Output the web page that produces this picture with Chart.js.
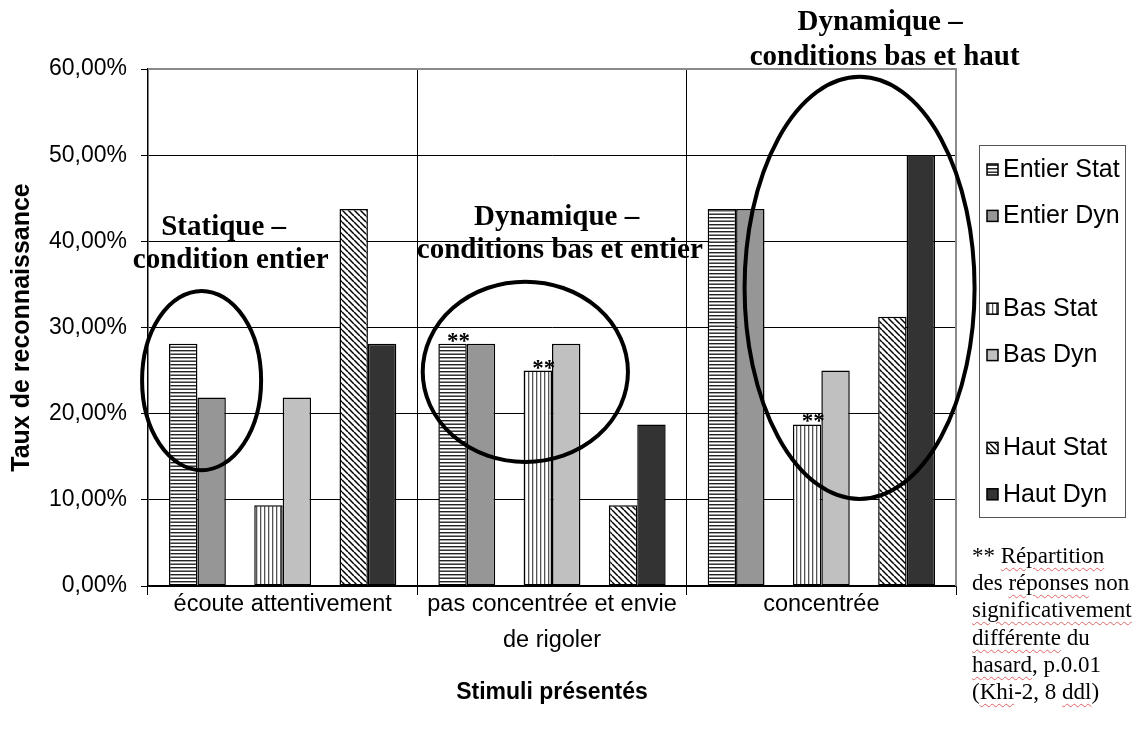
<!DOCTYPE html>
<html lang="fr">
<head>
<meta charset="utf-8">
<title>Taux de reconnaissance</title>
<script src="https://cdn.jsdelivr.net/npm/chart.js@4.4.1/dist/chart.umd.min.js"></script>
<style>
  html, body { margin: 0; padding: 0; background: #fff; }
  #wrap { position: relative; width: 1133px; height: 729px; }
  #note {
    position: absolute; left: 972px; top: 542px;
    font: 23px "Liberation Serif", "Times New Roman", serif;
    line-height: 27.2px; color: #000; white-space: nowrap;
  }
  #note .sp {
    text-decoration: underline wavy #e06464;
    text-decoration-thickness: 1px;
    text-underline-offset: 4px;
  }
</style>
</head>
<body>
<div id="wrap">
  <canvas id="chart" width="1133" height="729"></canvas>
  <div id="note">
    ** <span class="sp">Répartition</span><br>
    des <span class="sp">réponses</span> non<br>
    <span class="sp">significativement</span><br>
    <span class="sp">différente</span> du<br>
    <span class="sp">hasard</span>, p.0.01<br>
    (<span class="sp">Khi</span>-2, 8 <span class="sp">ddl</span>)
  </div>
</div>
<script>
// catégories et séries (taux en %)
const categories = ['écoute attentivement', ['pas concentrée et envie', 'de rigoler'], 'concentrée'];
const entierStat = [28.125, 28.125, 43.75];
const entierDyn  = [21.875, 28.125, 43.75];
const basStat    = [9.375, 25, 18.75];
const basDyn     = [21.875, 28.125, 25];
const hautStat   = [43.75, 9.375, 31.25];
const hautDyn    = [28.125, 18.75, 50];
const vide       = [null, null, null];
const yTicks = [0, 10, 20, 30, 40, 50, 60];

// barres marquées ** (non significatif)
const nonSignif = [
  { serie: 'Entier Stat', idx: 1 },
  { serie: 'Bas Stat', idx: 1 },
  { serie: 'Bas Stat', idx: 2 }
];

// ellipses et textes, en unités d'axes (x = index de catégorie, y = %)
const ellipses = [
  { x: -0.301, y: 23.84, rx: 0.221, ry: 10.4 },
  { x: 0.901, y: 24.86, rx: 0.381, ry: 10.46 },
  { x: 2.142, y: 34.59, rx: 0.427, ry: 24.5 }
];
const textes = [
  { t: 'Statique –', x: -0.219, y: 40.75 },
  { t: 'condition entier', x: -0.193, y: 36.91 },
  { t: 'Dynamique –', x: 1.017, y: 41.91 },
  { t: 'conditions bas et entier', x: 1.029, y: 38.07 },
  { t: 'Dynamique –', x: 2.218, y: 64.56 },
  { t: 'conditions bas et haut', x: 2.235, y: 60.5 }
];

const SANS = '"Liberation Sans", Arial, sans-serif';
const SERIF = '"Liberation Serif", "Times New Roman", serif';

function motif(type) {
  const c = document.createElement('canvas');
  const g = c.getContext('2d');
  if (type === 'h') {
    c.width = 8; c.height = 7;
    g.fillStyle = '#fff'; g.fillRect(0, 0, 8, 7);
    g.fillStyle = '#222';
    g.fillRect(0, 0, 8, 1.4);
    g.fillRect(0, 3.5, 8, 1.4);
  } else if (type === 'v') {
    c.width = 4; c.height = 8;
    g.fillStyle = '#fff'; g.fillRect(0, 0, 4, 8);
    g.fillStyle = '#555';
    g.fillRect(0, 0, 1.3, 8);
  } else {
    c.width = 6; c.height = 6;
    g.fillStyle = '#fff'; g.fillRect(0, 0, 6, 6);
    g.strokeStyle = '#000'; g.lineWidth = 1.5;
    for (const x0 of [-6, 0, 6]) {
      g.beginPath(); g.moveTo(x0, 0); g.lineTo(x0 + 6, 6); g.stroke();
    }
  }
  return g.createPattern(c, 'repeat');
}

const serie = (label, data, fond) => ({
  label, data, backgroundColor: fond,
  borderColor: '#000', borderWidth: 1.5, borderSkipped: false
});

const datasets = [
  serie('Entier Stat', entierStat, motif('h')),
  serie('Entier Dyn', entierDyn, '#969696'),
  serie('', vide, '#fff'),
  serie('Bas Stat', basStat, motif('v')),
  serie('Bas Dyn', basDyn, '#c0c0c0'),
  serie('', vide, '#fff'),
  serie('Haut Stat', hautStat, motif('d')),
  serie('Haut Dyn', hautDyn, '#333333')
];

// bord gris du haut et de droite de la zone de tracé
const cadre = {
  id: 'cadre',
  beforeDatasetsDraw(chart) {
    const { ctx, chartArea: a } = chart;
    ctx.save();
    ctx.strokeStyle = '#8a8a8a';
    ctx.lineWidth = 2;
    ctx.beginPath();
    ctx.moveTo(a.left, a.top);
    ctx.lineTo(a.right, a.top);
    ctx.lineTo(a.right, a.bottom);
    ctx.stroke();
    ctx.restore();
  }
};

const annotations = {
  id: 'annotations',
  afterDatasetsDraw(chart) {
    const { ctx, scales: { x, y } } = chart;
    const x0 = x.getPixelForValue(0);
    const w = x.getPixelForValue(1) - x0;
    const px = v => x0 + v * w;

    ctx.save();
    // astérisques
    ctx.font = 'bold 23px ' + SERIF;
    ctx.fillStyle = '#000';
    ctx.textAlign = 'center';
    ctx.textBaseline = 'alphabetic';
    nonSignif.forEach(m => {
      const di = chart.data.datasets.findIndex(d => d.label === m.serie);
      const bar = chart.getDatasetMeta(di).data[m.idx];
      ctx.fillText('**', bar.x + 6, bar.y + 4);
    });

    // ellipses
    ctx.strokeStyle = '#000';
    ctx.lineWidth = 4;
    ellipses.forEach(e => {
      const cy = y.getPixelForValue(e.y);
      const ry = y.getPixelForValue(0) - y.getPixelForValue(e.ry);
      ctx.beginPath();
      ctx.ellipse(px(e.x), cy, e.rx * w, ry, 0, 0, Math.PI * 2);
      ctx.stroke();
    });

    // textes
    ctx.font = 'bold 29px ' + SERIF;
    textes.forEach(t => ctx.fillText(t.t, px(t.x), y.getPixelForValue(t.y)));
    ctx.restore();
  }
};

const legende = {
  id: 'legende',
  afterDraw(chart) {
    const { ctx } = chart;
    ctx.save();
    ctx.strokeStyle = '#555';
    ctx.lineWidth = 1;
    ctx.strokeRect(979.5, 145.5, 146, 372);
    ctx.font = '25px ' + SANS;
    ctx.textBaseline = 'middle';
    ctx.fillStyle = '#000';
    chart.data.datasets.forEach((d, i) => {
      if (!d.label) return;
      const cy = 170 + i * 46.4;
      ctx.fillStyle = d.backgroundColor;
      ctx.fillRect(987, cy - 6, 11, 11);
      ctx.strokeStyle = '#000';
      ctx.lineWidth = 1.5;
      ctx.strokeRect(987, cy - 6, 11, 11);
      ctx.fillStyle = '#000';
      ctx.fillText(d.label, 1003, cy);
    });
    ctx.restore();
  }
};

Chart.defaults.color = '#000';

new Chart(document.getElementById('chart'), {
  type: 'bar',
  data: { labels: categories, datasets },
  options: {
    responsive: false,
    animation: false,
    devicePixelRatio: 1,
    categoryPercentage: 0.844,
    barPercentage: 1,
    layout: { padding: { top: 69, right: 177, bottom: 0, left: 0 } },
    plugins: { legend: { display: false }, tooltip: { enabled: false } },
    scales: {
      x: {
        ticks: {
          font: { family: SANS, size: 23.5, lineHeight: 1.52 }, color: '#000',
          padding: -8, maxRotation: 0, autoSkip: false
        },
        grid: { color: '#000', lineWidth: 1, tickLength: 9, offset: true },
        border: { color: '#000', width: 1.5 },
        title: {
          display: true, text: 'Stimuli présentés', color: '#000',
          font: { family: SANS, size: 23, weight: 'bold' },
          padding: { top: 0, bottom: 23 }
        },
        afterFit: s => { s.height = 143; }
      },
      y: {
        min: 0, max: 60,
        afterBuildTicks: s => { s.ticks = yTicks.map(v => ({ value: v })); },
        ticks: {
          font: { family: SANS, size: 23 }, color: '#000', padding: 14,
          callback: v => v.toFixed(2).replace('.', ',') + '%'
        },
        grid: { color: '#000', lineWidth: 1, tickLength: 7 },
        border: { color: '#000', width: 1.5 },
        title: {
          display: true, text: 'Taux de reconnaissance', color: '#000',
          font: { family: SANS, size: 25, weight: 'bold' },
          padding: { top: 7, bottom: 0 }
        },
        afterFit: s => { s.width = 148; }
      }
    }
  },
  plugins: [cadre, annotations, legende]
});
</script>
</body>
</html>
